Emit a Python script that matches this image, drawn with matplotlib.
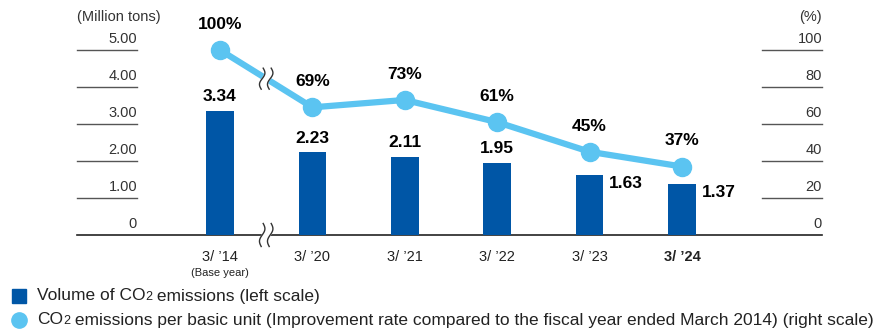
import numpy as np
import matplotlib.pyplot as plt
from matplotlib.patches import Rectangle
from matplotlib.lines import Line2D
from matplotlib.offsetbox import TextArea, HPacker, AnchoredOffsetbox
import matplotlib.transforms as mtransforms

plt.rcParams['font.family'] = ['Liberation Sans', 'DejaVu Sans']

# data
years = ["3/ \u201914", "3/ \u201920", "3/ \u201921", "3/ \u201922", "3/ \u201923", "3/ \u201924"]
volume = [3.34, 2.23, 2.11, 1.95, 1.63, 1.37]
rate = [100, 69, 73, 61, 45, 37]
left_ticks = [0, 1, 2, 3, 4, 5]
left_labels = ["0", "1.00", "2.00", "3.00", "4.00", "5.00"]
right_ticks = [0, 20, 40, 60, 80, 100]

BAR = '#0056A6'
LINE = '#5BC4F1'
W, H = 886, 334

fig = plt.figure(figsize=(W / 100, H / 100), dpi=100)
x0, x1, y0, y1 = 77, 822, 235, 50
ax = fig.add_axes([x0 / W, 1 - y0 / H, (x1 - x0) / W, (y0 - y1) / H])
ax.set_ylim(0, 5)
step = 92.4
ax.set_xlim((x0 - 220) / step, (x1 - 220) / step)
ax.axis('off')
ax2 = ax.twinx()
ax2.set_ylim(0, 100)
ax2.axis('off')

x = np.arange(len(years))

# tick lines and labels
tl = (137 - x0) / (x1 - x0)
tr = (762 - x0) / (x1 - x0)
trans = mtransforms.blended_transform_factory(ax.transAxes, ax.transData)
for v, lab in zip(left_ticks, left_labels):
    if v > 0:
        ax.plot([0, tl], [v, v], color='#555555', lw=1, transform=trans, clip_on=False)
    ax.text(tl, v + 0.12, lab, transform=trans, ha='right', va='bottom', fontsize=10.5, color='#333333')
trans2 = mtransforms.blended_transform_factory(ax2.transAxes, ax2.transData)
for v in right_ticks:
    if v > 0:
        ax2.plot([tr, 1], [v, v], color='#555555', lw=1, transform=trans2, clip_on=False)
    ax2.text(1, v + 2.4, str(v), transform=trans2, ha='right', va='bottom', fontsize=10.5, color='#333333')
ax.plot([0, 1], [0, 0], color='#222222', lw=1.2, transform=trans, clip_on=False)

ax.text(0, 1.14, '(Million tons)', transform=ax.transAxes, ha='left', va='bottom', fontsize=10.5, color='#333333')
ax.text(1, 1.14, '(%)', transform=ax.transAxes, ha='right', va='bottom', fontsize=10.5, color='#333333')

# bars
ax.bar(x, volume, width=0.3, color=BAR, zorder=2)
for i, v in enumerate(volume):
    if i < 4:
        ax.annotate(f'{v:.2f}', (x[i], v), xytext=(0, 5), textcoords='offset points',
                    ha='center', va='bottom', fontsize=12.5, fontweight='bold')
    else:
        ax.annotate(f'{v:.2f}', (x[i] + 0.15, v), xytext=(4, -6), textcoords='offset points',
                    ha='left', va='center', fontsize=12.5, fontweight='bold')

# line
ax2.plot(x, rate, color=LINE, lw=4.5, marker='o', ms=13, zorder=3, clip_on=False)
for i, v in enumerate(rate):
    ax2.annotate(f'{v}%', (x[i], v), xytext=(0, 13), textcoords='offset points',
                 ha='center', va='bottom', fontsize=12.5, fontweight='bold')

# x labels
for i, lab in enumerate(years):
    ax.annotate(lab, (x[i], 0), xytext=(0, -11), textcoords='offset points', ha='center', va='top',
                fontsize=10.5, fontweight='bold' if i == len(years) - 1 else 'normal', color='#222222')
ax.annotate('(Base year)', (x[0], 0), xytext=(0, -24), textcoords='offset points', ha='center', va='top',
            fontsize=8, color='#222222')


# break marks
def wave(axis, xc, yc, dx, h):
    # two squiggles with white gap, in pixel offsets from data point
    base = axis.transData.transform((xc, yc))
    t = np.linspace(-1, 1, 30)
    pts = []
    for off in (-dx / 2, dx / 2):
        xs = base[0] + off + 2.2 * np.sin(t * np.pi) + t * 1.0
        ys = base[1] + t * h / 2
        pts.append(np.column_stack([xs, ys]))
    poly = np.vstack([pts[0], pts[1][::-1]])
    inv = fig.transFigure.inverted()
    fig.patches.append(plt.Polygon(inv.transform(poly), closed=True, color='white', zorder=5,
                                   transform=fig.transFigure))
    for p in pts:
        fig.lines.append(Line2D(*inv.transform(p).T, color='#333333', lw=1, transform=fig.transFigure,
                                zorder=6))


fig.canvas.draw()
wave(ax2, 0.5, (rate[0] + rate[1]) / 2, 8, 21)
wave(ax, 0.5, 0, 8, 23)

# legend
fig.patches.append(Rectangle((12 / W, 1 - 303 / H), 14 / W, 14 / H, color=BAR, transform=fig.transFigure))
fig.lines.append(Line2D([19 / W], [1 - 320 / H], marker='o', ms=11, color=LINE, transform=fig.transFigure))


def legend_text(parts, y):
    boxes = []
    for s, small in parts:
        boxes.append(TextArea(s, textprops=dict(fontsize=9 if small else 12.5, color='#222222')))
    pack = HPacker(children=boxes, align='baseline', pad=0, sep=0)
    ab = AnchoredOffsetbox(loc='center left', child=pack, pad=0, frameon=False,
                           bbox_to_anchor=(37 / W, 1 - y / H), bbox_transform=fig.transFigure,
                           borderpad=0)
    fig.add_artist(ab)


legend_text([('Volume of CO', False), ('2', True), (' emissions (left scale)', False)], 296)
legend_text([('CO', False), ('2', True),
             (' emissions per basic unit (Improvement rate compared to the fiscal year ended March 2014) (right scale)',
              False)], 320)

fig.savefig('out.png', dpi=100)
